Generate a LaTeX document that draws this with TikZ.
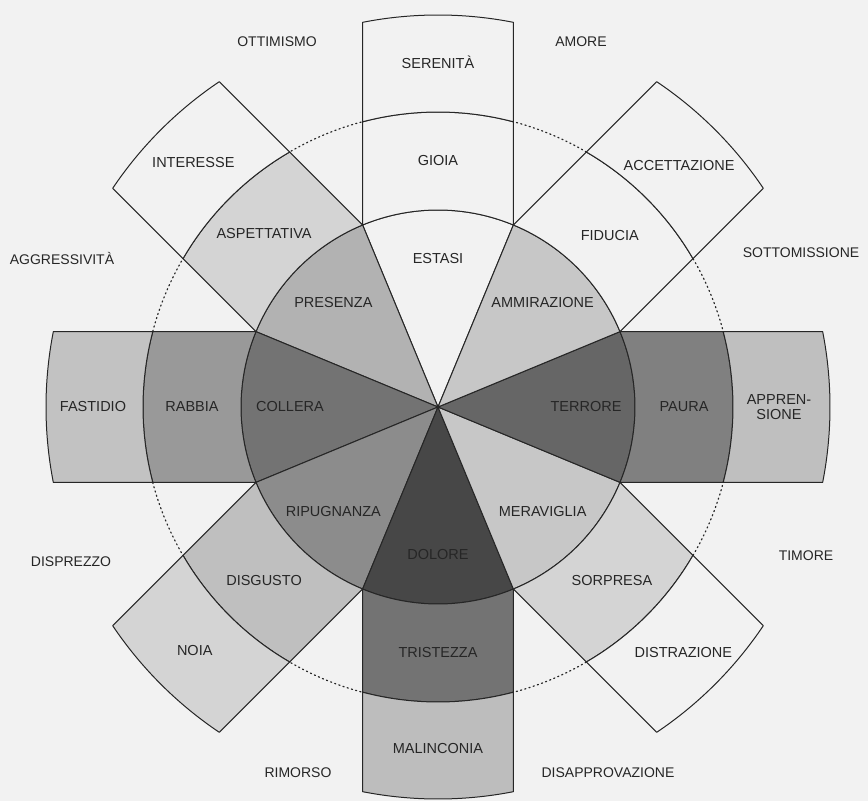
\documentclass[tikz,border=0pt]{standalone}
\usepackage{fontspec}
\setmainfont{Liberation Sans}
\begin{document}
\begin{tikzpicture}[x=1pt,y=1pt,
  wedge/.style={draw=black!85, line width=1pt, line join=round},
  lbl/.style={font=\fontsize{14.5}{15}\selectfont, text=black!85, inner sep=0pt, align=center},
  dyad/.style={font=\fontsize{14}{15}\selectfont, text=black!85, inner sep=0pt},
  ring/.style={draw=black!85, line width=1.2pt, dash pattern=on 1.2pt off 3.2pt, line cap=round}]
\definecolor{bg}{gray}{0.95}
\pgfmathsetmacro\Ra{197}
\pgfmathsetmacro\Rb{295}
\pgfmathsetmacro\Rc{392}
\pgfmathsetmacro\hw{\Ra*sin(22.5)}
\pgfmathsetmacro\phb{asin(\hw/\Rb)}
\pgfmathsetmacro\phc{asin(\hw/\Rc)}
\newcommand\emostrip[4]{%
  \begin{scope}[rotate=#1]
    \filldraw[wedge, fill=#2] (0,0) -- (-22.5:\Ra) arc[start angle=-22.5, end angle=22.5, radius=\Ra] -- cycle;
    \filldraw[wedge, fill=#3] (-22.5:\Ra) arc[start angle=-22.5, end angle=22.5, radius=\Ra]
      -- (\phb:\Rb) arc[start angle=\phb, end angle=-\phb, radius=\Rb] -- cycle;
    \filldraw[wedge, fill=#4] (-\phb:\Rb) arc[start angle=-\phb, end angle=\phb, radius=\Rb]
      -- (\phc:\Rc) arc[start angle=\phc, end angle=-\phc, radius=\Rc] -- cycle;
  \end{scope}}
\useasboundingbox (-438,-394) rectangle (430,407);
\fill[bg] (-438,-394) rectangle (430,407);
\draw[ring] (0,0) circle[radius=\Rb];
% strips: angle, inner, middle, outer
\emostrip{90}{bg}{bg}{bg}
\emostrip{135}{black!30}{black!17}{bg}
\emostrip{180}{black!55}{black!40}{black!24}
\emostrip{225}{black!45}{black!25}{black!17}
\emostrip{270}{black!72}{black!55}{black!26}
\emostrip{315}{black!22}{black!17}{bg}
\emostrip{0}{black!60}{black!50}{black!25}
\emostrip{45}{black!22}{bg}{bg}
% inner labels
\node[lbl] (estasi) at (90:148) {ESTASI};
\node[lbl] (presenza) at (135:148) {PRESENZA};
\node[lbl] (collera) at (180:148) {COLLERA};
\node[lbl] (ripugnanza) at (225:148) {RIPUGNANZA};
\node[lbl] (dolore) at (270:148) {DOLORE};
\node[lbl] (meraviglia) at (315:148) {MERAVIGLIA};
\node[lbl] (terrore) at (0:148) {TERRORE};
\node[lbl] (ammirazione) at (45:148) {AMMIRAZIONE};
% middle labels
\node[lbl] (gioia) at (90:246) {GIOIA};
\node[lbl] (aspettativa) at (135:246) {ASPETTATIVA};
\node[lbl] (rabbia) at (180:246) {RABBIA};
\node[lbl] (disgusto) at (225:246) {DISGUSTO};
\node[lbl] (tristezza) at (270:246) {TRISTEZZA};
\node[lbl] (sorpresa) at (315:246) {SORPRESA};
\node[lbl] (paura) at (0:246) {PAURA};
\node[lbl] (fiducia) at (45:243) {FIDUCIA};
% outer labels
\node[lbl] (serenita) at (90:345) {SERENITÀ};
\node[lbl] (interesse) at (135:346) {INTERESSE};
\node[lbl] (fastidio) at (180:345) {FASTIDIO};
\node[lbl] (noia) at (225:344) {NOIA};
\node[lbl] (malinconia) at (270:342) {MALINCONIA};
\node[lbl] (distrazione) at (315:347) {DISTRAZIONE};
\node[lbl] (apprensione) at (0:341) {APPREN-\\SIONE};
\node[lbl] (accettazione) at (45:341) {ACCETTAZIONE};
% dyads
\node[dyad] (ottimismo) at (-161,365) {OTTIMISMO};
\node[dyad] (amore) at (143,365) {AMORE};
\node[dyad] (aggressivita) at (-376,149) {AGGRESSIVITÀ};
\node[dyad] (sottomissione) at (363,154) {SOTTOMISSIONE};
\node[dyad] (disprezzo) at (-367,-155) {DISPREZZO};
\node[dyad] (timore) at (368,-149) {TIMORE};
\node[dyad] (rimorso) at (-140,-366) {RIMORSO};
\node[dyad] (disapprovazione) at (170,-366) {DISAPPROVAZIONE};
\end{tikzpicture}
\end{document}
